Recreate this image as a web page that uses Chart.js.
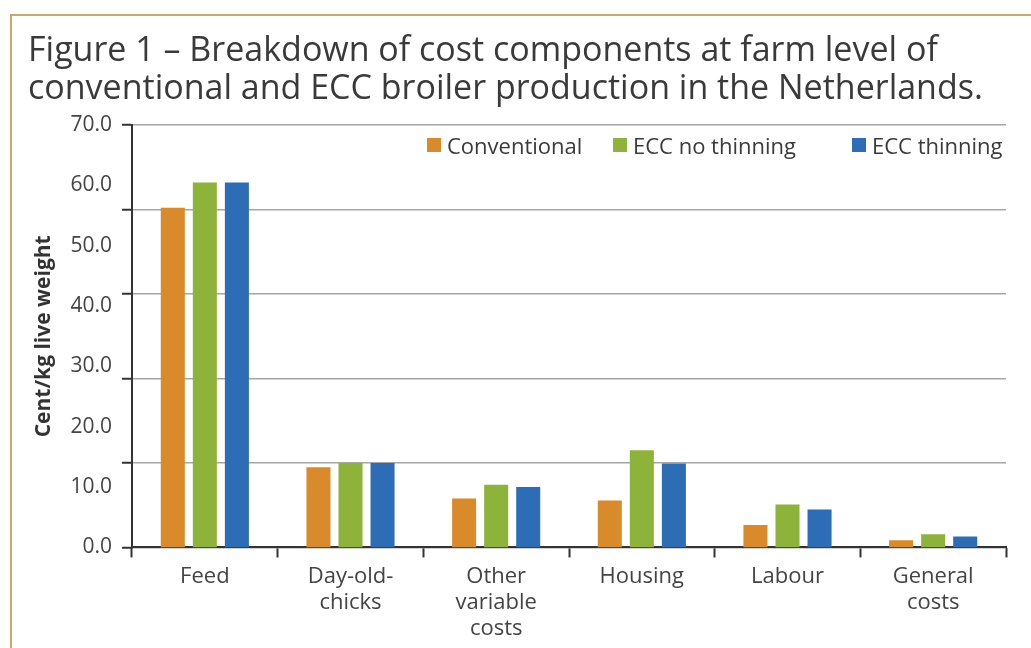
<!DOCTYPE html>
<html>
<head>
<meta charset="utf-8">
<script src="https://cdn.jsdelivr.net/npm/chart.js@4.4.1/dist/chart.umd.min.js"></script>
<style>
    body { margin: 0; background: #fff; }
    #wrap { position: relative; width: 1031px; height: 648px; overflow: hidden; }
    #frame {
        position: absolute; left: 10px; top: 14px; width: 1100px; height: 700px;
        border-top: 2px solid #c9a96a; border-left: 2px solid #c9a96a;
    }
    #costChart { position: absolute; left: 0; top: 0; }
    .item {
        position: absolute; top: 130px; display: flex; align-items: center; white-space: nowrap;
        font-family: 'Open Sans', sans-serif; font-size: 22px; color: #3a3a3a;
    }
    .box { width: 14px; height: 14px; margin-right: 6px; }
</style>
</head>
<body>
<div id="wrap">
    <div id="frame"></div>
    <canvas id="costChart" width="1031" height="648"></canvas>
    <div id="legend"></div>
</div>
<script>
const categories = ['Feed', ['Day-old-', 'chicks'], ['Other', 'variable', 'costs'], 'Housing', 'Labour', ['General', 'costs']];
const conventional = [56.3, 13.3, 8.1, 7.8, 3.7, 1.2];
const eccNoThinning = [60.5, 14.0, 10.4, 16.1, 7.1, 2.2];
const eccThinning = [60.5, 14.0, 10.0, 13.9, 6.3, 1.8];
const seriesNames = ['Conventional', 'ECC no thinning', 'ECC thinning'];
const seriesColors = ['#d98a2b', '#8db33a', '#2c6db5'];
const yLabelTicks = [0, 10, 20, 30, 40, 50, 60, 70];

document.addEventListener('DOMContentLoaded', () => {
    const font = 'Open Sans';

    // legend drawn as html, inside the plot area
    const legendLeft = [427, 613, 852];
    const legend = document.getElementById('legend');
    seriesNames.forEach((name, i) => {
        const item = document.createElement('div');
        item.className = 'item';
        item.style.left = legendLeft[i] + 'px';
        const box = document.createElement('span');
        box.className = 'box';
        box.style.background = seriesColors[i];
        const label = document.createElement('span');
        label.textContent = name;
        item.appendChild(box);
        item.appendChild(label);
        legend.appendChild(item);
    });

    const ctx = document.getElementById('costChart').getContext('2d');
    new Chart(ctx, {
        type: 'bar',
        data: {
            labels: categories,
            datasets: [
                { label: seriesNames[0], data: conventional, backgroundColor: seriesColors[0] },
                { label: seriesNames[1], data: eccNoThinning, backgroundColor: seriesColors[1] },
                { label: seriesNames[2], data: eccThinning, backgroundColor: seriesColors[2] }
            ]
        },
        options: {
            responsive: false,
            animation: false,
            categoryPercentage: 0.66,
            barPercentage: 0.75,
            layout: { padding: { left: 28, right: 25, top: 0, bottom: 0 } },
            plugins: {
                legend: { display: false },
                tooltip: { enabled: false },
                title: {
                    display: true,
                    align: 'start',
                    text: ['Figure 1 \u2013 Breakdown of cost components at farm level of',
                           'conventional and ECC broiler production in the Netherlands.'],
                    color: '#3a3a3a',
                    font: { family: font, size: 34, weight: 'normal', lineHeight: 1.12 },
                    padding: { top: 32, bottom: 17 }
                }
            },
            scales: {
                x: {
                    offset: true,
                    grid: { display: true, drawOnChartArea: false, offset: true, tickLength: 10, tickColor: '#333', tickWidth: 2 },
                    border: { color: '#333', width: 2 },
                    ticks: {
                        color: '#444', padding: 7, maxRotation: 0, autoSkip: false,
                        font: { family: font, size: 22, lineHeight: 1.16 }
                    }
                },
                yLab: {
                    position: 'left',
                    weight: 10,
                    min: 0,
                    max: 70,
                    afterBuildTicks: (scale) => { scale.ticks = yLabelTicks.map(v => ({ value: v })); },
                    afterFit: (scale) => { scale.width = 94; },
                    grid: { display: false, drawTicks: false },
                    border: { display: false },
                    ticks: {
                        padding: 10, color: '#444',
                        font: { family: font, size: 21 },
                        callback: (v) => v.toFixed(1)
                    },
                    title: {
                        display: true,
                        text: 'Cent/kg live weight',
                        color: '#333',
                        font: { family: font, size: 21, weight: 'bold' },
                        padding: { top: 3, bottom: 0 }
                    }
                },
                y: {
                    position: 'left',
                    weight: 0,
                    min: 0,
                    max: 70,
                    afterFit: (scale) => { scale.width = 10; },
                    ticks: { stepSize: 14, display: false },
                    grid: { color: '#a6a6a6', lineWidth: 1.5, tickLength: 10, tickColor: '#333', tickWidth: 2 },
                    border: { color: '#333', width: 2 }
                }
            }
        }
    });
});
</script>
</body>
</html>
